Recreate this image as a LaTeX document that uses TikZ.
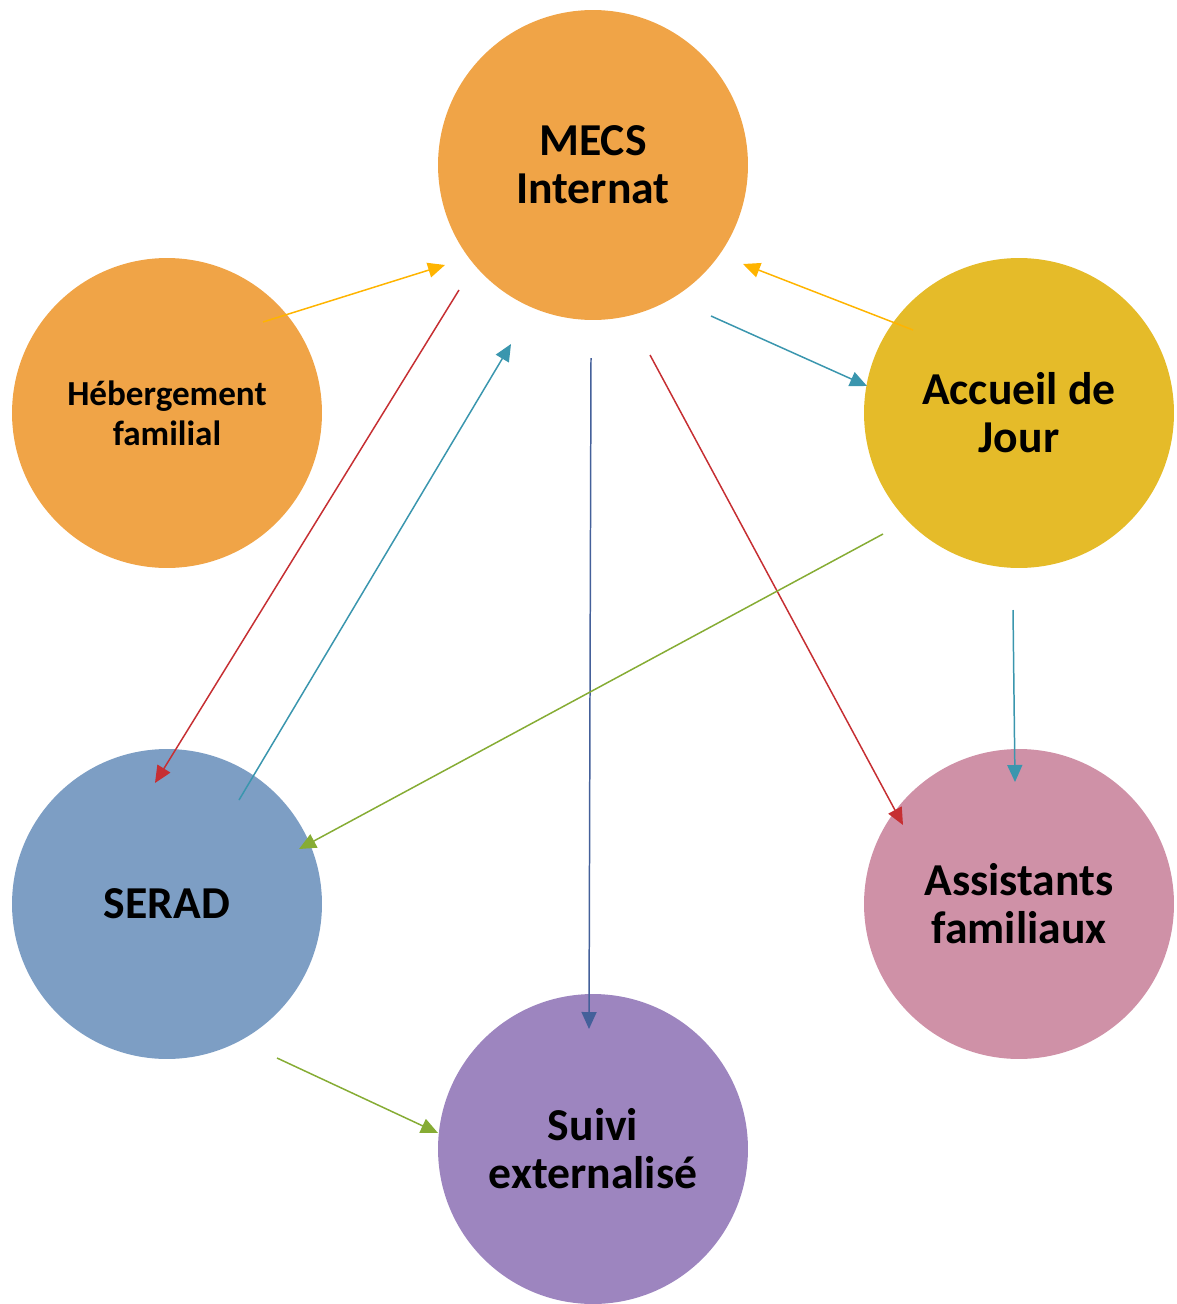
\documentclass[tikz,border=0pt]{standalone}
\usepackage{fontspec}
\setmainfont{Carlito}
\usetikzlibrary{arrows.meta}

\definecolor{mecsfill}{HTML}{F0A447}
\definecolor{jourfill}{HTML}{E5BB29}
\definecolor{seradfill}{HTML}{7D9EC4}
\definecolor{assistfill}{HTML}{CF91A7}
\definecolor{suivifill}{HTML}{9D85BF}
\definecolor{arrorange}{HTML}{FFB400}
\definecolor{arrteal}{HTML}{3A96AE}
\definecolor{arrred}{HTML}{C62F33}
\definecolor{arrblue}{HTML}{44609A}
\definecolor{arrgreen}{HTML}{86AC34}

\begin{document}
\begin{tikzpicture}[>={Triangle[length=.34cm,width=.3cm]}, x=0.02cm, y=-0.02cm,
  pole/.style={circle, minimum size=6.2cm, inner sep=0pt, align=center},
  bigtxt/.style={font=\fontsize{26}{27.3}\selectfont\bfseries},
  smalltxt/.style={font=\fontsize{20}{22.8}\selectfont\bfseries},
  link/.style={->, line width=.85pt}]
\useasboundingbox (0,0) rectangle (1176,1304);

% the six poles
\node[pole, bigtxt, fill=mecsfill] (mecs) at (593,165) {MECS\\Internat};
\node[pole, smalltxt, fill=mecsfill] (heb) at (167,413) {Hébergement\\familial};
\node[pole, bigtxt, fill=jourfill] (jour) at (1019,413) {Accueil de\\Jour};
\node[pole, bigtxt, fill=seradfill] (serad) at (167,904) {SERAD};
\node[pole, bigtxt, fill=assistfill] (assist) at (1019,904) {Assistants\\familiaux};
\node[pole, bigtxt, fill=suivifill] (suivi) at (593,1149) {Suivi\\externalisé};

% towards MECS
\draw[link, arrorange] ([shift={(96,-91)}]heb.center) -- ([shift={(-148,100)}]mecs.center);
\draw[link, arrorange] ([shift={(-106,-83)}]jour.center) -- ([shift={(150,99)}]mecs.center);
\draw[link, arrteal] ([shift={(72,-104)}]serad.center) -- ([shift={(-82,179)}]mecs.center);
% from MECS
\draw[link, arrteal] ([shift={(118,151)}]mecs.center) -- ([shift={(-152,-27)}]jour.center);
\draw[link, arrred] ([shift={(-134,125)}]mecs.center) -- ([shift={(-12,-121)}]serad.center);
\draw[link, arrblue] ([shift={(-2,193)}]mecs.center) -- ([shift={(-4,-120)}]suivi.center);
\draw[link, arrred] ([shift={(57,190)}]mecs.center) -- ([shift={(-116,-79)}]assist.center);
% from Accueil de Jour
\draw[link, arrgreen] ([shift={(-136,121)}]jour.center) -- ([shift={(132,-55)}]serad.center);
\draw[link, arrteal] ([shift={(-6,197)}]jour.center) -- ([shift={(-4,-122)}]assist.center);
% from SERAD
\draw[link, arrgreen] ([shift={(110,154)}]serad.center) -- ([shift={(-155,-16)}]suivi.center);
\end{tikzpicture}
\end{document}
